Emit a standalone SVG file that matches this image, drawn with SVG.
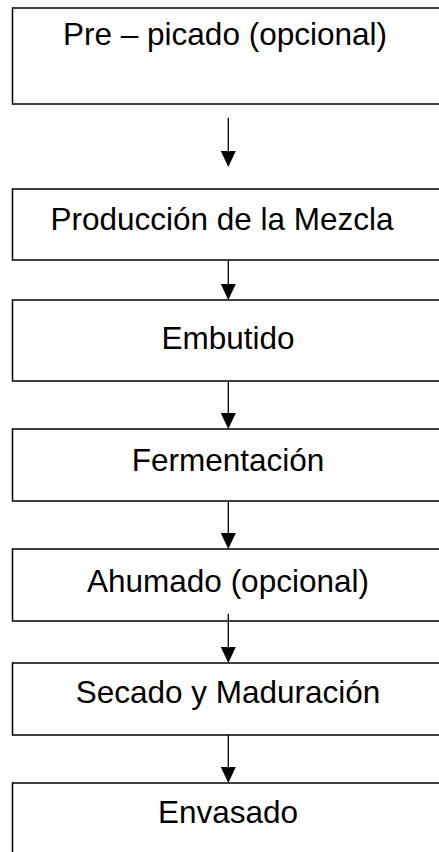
<svg xmlns="http://www.w3.org/2000/svg" width="439" height="852" viewBox="0 0 439 852">
<style>
.box{fill:#fff;stroke:#000;stroke-width:1.5}
.lbl{font-family:"Liberation Sans",Arial,sans-serif;font-size:31.5px;fill:#000;text-anchor:middle}
.ln{stroke:#000;stroke-width:1.3;fill:none}
.hd{fill:#000}
</style>
<rect width="439" height="852" fill="#fff"/>
<g id="n1"><rect class="box" x="12.5" y="8" width="440" height="96"/><text class="lbl" x="225" y="45">Pre – picado (opcional)</text></g>
<g id="n2"><rect class="box" x="12.5" y="189" width="440" height="71"/><text class="lbl" x="222" y="230">Producción de la Mezcla</text></g>
<g id="n3"><rect class="box" x="12.5" y="300" width="440" height="81"/><text class="lbl" x="228" y="349">Embutido</text></g>
<g id="n4"><rect class="box" x="12.5" y="429" width="440" height="72"/><text class="lbl" x="228" y="471">Fermentación</text></g>
<g id="n5"><rect class="box" x="12.5" y="549" width="440" height="72"/><text class="lbl" x="228" y="592">Ahumado (opcional)</text></g>
<g id="n6"><rect class="box" x="12.5" y="663" width="440" height="72"/><text class="lbl" x="228" y="703">Secado y Maduración</text></g>
<g id="n7"><rect class="box" x="12.5" y="783" width="440" height="100"/><text class="lbl" x="228" y="823">Envasado</text></g>
<g id="connectors">
<line class="ln" x1="228.3" y1="118" x2="228.3" y2="152"/><polygon class="hd" points="220.8,151 235.8,151 228.3,167"/>
<line class="ln" x1="228.3" y1="260" x2="228.3" y2="285"/><polygon class="hd" points="220.8,284 235.8,284 228.3,300"/>
<line class="ln" x1="228.3" y1="381" x2="228.3" y2="414"/><polygon class="hd" points="220.8,413 235.8,413 228.3,429"/>
<line class="ln" x1="228.3" y1="501" x2="228.3" y2="534"/><polygon class="hd" points="220.8,533 235.8,533 228.3,549"/>
<line class="ln" x1="228.3" y1="614" x2="228.3" y2="648"/><polygon class="hd" points="220.8,647 235.8,647 228.3,663"/>
<line class="ln" x1="228.3" y1="735" x2="228.3" y2="768"/><polygon class="hd" points="220.8,767 235.8,767 228.3,783"/>
</g>
</svg>
